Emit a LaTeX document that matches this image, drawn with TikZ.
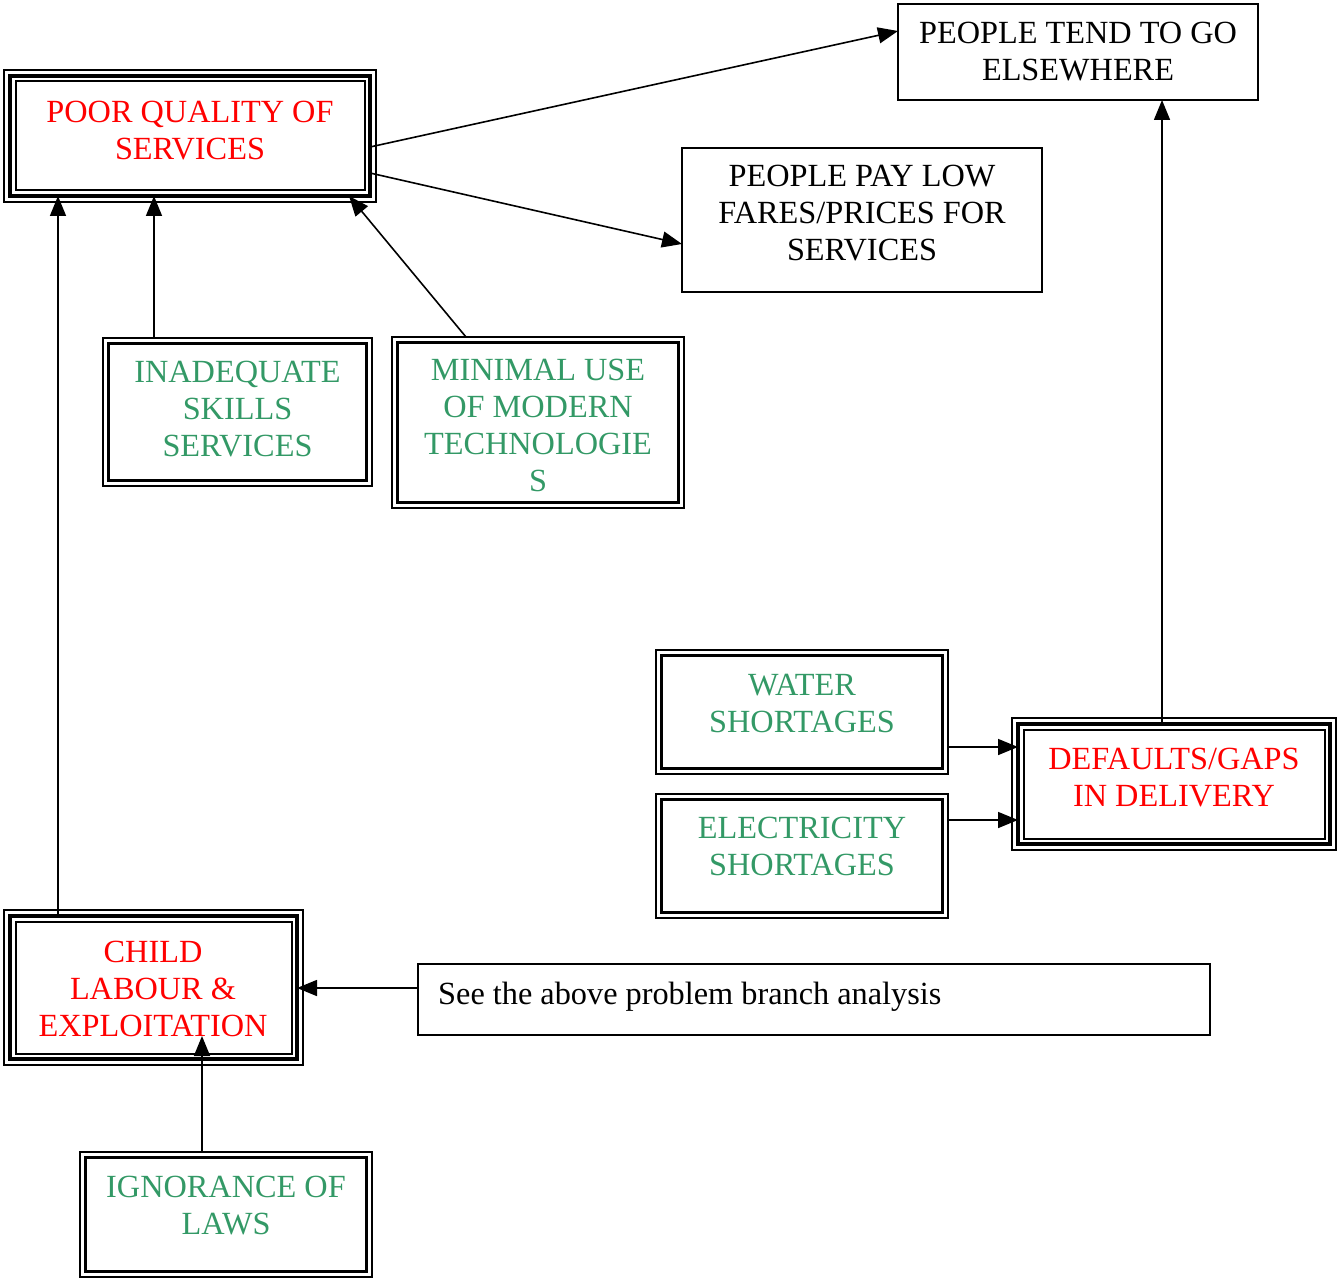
\documentclass[tikz,border=0pt]{standalone}
\usepackage{fontspec}
\setmainfont{Liberation Serif}
\usetikzlibrary{arrows.meta,calc}

\definecolor{causegreen}{RGB}{51,153,102}
\definecolor{effectred}{RGB}{255,0,0}

% thin outer and inner lines around a thick middle frame
\newcommand\tripleframe[1]{%
  \draw[line width=2pt] ([shift={(-6pt,6pt)}]#1.north west) rectangle ([shift={(6pt,-6pt)}]#1.south east);
  \draw[line width=2pt] ([shift={(5.5pt,-5.5pt)}]#1.north west) rectangle ([shift={(-5.5pt,5.5pt)}]#1.south east);}
% thick inner line inside a thin outer frame
\newcommand\doubleframe[1]{%
  \draw[line width=3pt] ([shift={(5.5pt,-5.5pt)}]#1.north west) rectangle ([shift={(-5.5pt,5.5pt)}]#1.south east);}

\tikzset{
  plainbox/.style={draw, line width=1.5pt, inner sep=0pt, outer sep=0pt},
  thickbox/.style={draw, line width=4.5pt, inner sep=0pt, outer sep=0pt},
  thinbox/.style={draw, line width=2pt, inner sep=0pt, outer sep=0pt},
  txt/.style={font=\fontsize{32.3}{37}\selectfont, align=center, inner sep=0pt},
  redtxt/.style={txt, text=effectred},
  greentxt/.style={txt, text=causegreen},
  arr/.style={line width=1.6pt, -{Triangle[length=20pt,width=16pt]}},
}

\begin{document}
\begin{tikzpicture}[x=1pt,y=-1pt]
\useasboundingbox (0,0) rectangle (1338,1281);

% ---- boxes ----
\node[thickbox, minimum width=360, minimum height=120] (poor) at (190,136) {};
\tripleframe{poor}
\node[redtxt] (poortxt) at (190,131) {POOR QUALITY OF\\SERVICES};

\node[plainbox, minimum width=360, minimum height=96] (tend) at (1078,52) {};
\node[txt] (tendtxt) at (1078,52) {PEOPLE TEND TO GO\\ELSEWHERE};

\node[plainbox, minimum width=360, minimum height=144] (pay) at (862,220) {};
\node[txt] (paytxt) at (862,213.5) {PEOPLE PAY LOW\\FARES/PRICES FOR\\SERVICES};

\node[thinbox, minimum width=269, minimum height=148] (inad) at (237.5,412) {};
\doubleframe{inad}
\node[greentxt] (inadtxt) at (237.5,409.5) {INADEQUATE\\SKILLS\\SERVICES};

\node[thinbox, minimum width=292, minimum height=171] (minimal) at (538,422.5) {};
\doubleframe{minimal}
\node[greentxt] (minimaltxt) at (538,425) {MINIMAL USE\\OF MODERN\\TECHNOLOGIE\\S};

\node[thinbox, minimum width=292, minimum height=124] (water) at (802,712) {};
\doubleframe{water}
\node[greentxt] (watertxt) at (802,703.5) {WATER\\SHORTAGES};

\node[thinbox, minimum width=292, minimum height=124] (elec) at (802,856) {};
\doubleframe{elec}
\node[greentxt] (electxt) at (802,846.5) {ELECTRICITY\\SHORTAGES};

\node[thickbox, minimum width=312, minimum height=120] (defaults) at (1174,784) {};
\tripleframe{defaults}
\node[redtxt] (defaultstxt) at (1174,778) {DEFAULTS/GAPS\\IN DELIVERY};

\node[thickbox, minimum width=287, minimum height=143] (child) at (153.5,987.5) {};
\tripleframe{child}
\node[redtxt] (childtxt) at (153,988.5) {CHILD\\LABOUR \&\\EXPLOITATION};

\node[plainbox, minimum width=792, minimum height=71] (see) at (814,999.5) {};
\node[txt, anchor=base west] (seetxt) at (438,1004) {See the above problem branch analysis};

\node[thinbox, minimum width=292, minimum height=125] (ign) at (226,1214.5) {};
\doubleframe{ign}
\node[greentxt] (igntxt) at (226,1205.5) {IGNORANCE OF\\LAWS};

% ---- reference lines for the connectors ----
\coordinate (x58) at (58,0);
\coordinate (x154) at (154,0);
\coordinate (x202) at (202,0);
\coordinate (x1162) at (1162,0);
\coordinate (y747) at (0,747);
\coordinate (y820) at (0,820);
\coordinate (y988) at (0,988);
\coordinate (childtip) at (202,1036);

% ---- connectors ----
\draw[arr] ([yshift=-11pt]poor.east) -- ([yshift=21pt]tend.west);
\draw[arr] ([yshift=-37pt]poor.east) -- ([yshift=-24pt]pay.west);
\draw[arr] (x154 |- inad.north) -- (x154 |- poor.south);
\draw[arr] ([xshift=-72pt]minimal.north) -- ([xshift=159pt]poor.south);
\draw[arr] (x58 |- child.north) -- (x58 |- poor.south);
\draw[arr] (x1162 |- defaults.north) -- (x1162 |- tend.south);
\draw[arr] (water.east |- y747) -- (defaults.west |- y747);
\draw[arr] (elec.east |- y820) -- (defaults.west |- y820);
\draw[arr] (see.west |- y988) -- (child.east |- y988);
\draw[arr] (x202 |- ign.north) -- (childtip);
\end{tikzpicture}
\end{document}
